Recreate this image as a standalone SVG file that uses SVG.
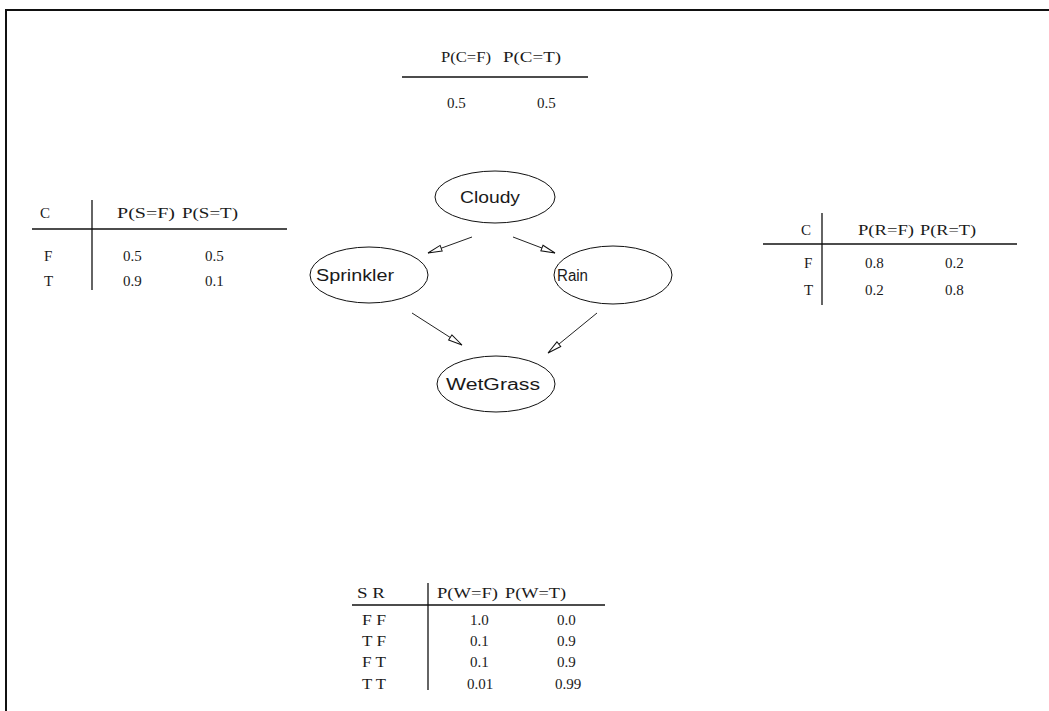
<svg xmlns="http://www.w3.org/2000/svg" width="1049" height="711" viewBox="0 0 1049 711">
<defs>
<style>
.tb{font-family:"Liberation Serif","Times New Roman",serif;font-size:15px;fill:#1a1a1a}
.nd{font-family:"Liberation Sans",Arial,sans-serif;font-size:16px;fill:#1a1a1a}
.ell{fill:none;stroke:#111;stroke-width:1}
.rule{stroke:#111;stroke-width:1.3;fill:none}
.edge{stroke:#222;stroke-width:1;fill:none;marker-end:url(#arr)}
</style>
<marker id="arr" markerUnits="userSpaceOnUse" markerWidth="18" markerHeight="10" refX="15" refY="4" orient="auto">
<path d="M1,1 L15,4 L1,7 z" fill="#fff" stroke="#111" stroke-width="1"/>
</marker>
</defs>
<rect width="1049" height="711" fill="#fff"/>
<path d="M6,711 V10 H1049" fill="none" stroke="#111" stroke-width="2"/>

<g id="table-cloudy">
<text class="tb" x="441" y="62" textLength="50" lengthAdjust="spacingAndGlyphs">P(C=F)</text>
<text class="tb" x="503" y="62" textLength="58" lengthAdjust="spacingAndGlyphs">P(C=T)</text>
<line class="rule" x1="402" y1="77" x2="588" y2="77"/>
<text class="tb" x="447" y="108">0.5</text>
<text class="tb" x="537" y="108">0.5</text>
</g>

<g id="table-sprinkler">
<text class="tb" x="40" y="218">C</text>
<line class="rule" x1="92" y1="200" x2="92" y2="290"/>
<line class="rule" x1="32" y1="229" x2="287" y2="229"/>
<text class="tb" x="117" y="218" textLength="58" lengthAdjust="spacingAndGlyphs">P(S=F)</text>
<text class="tb" x="182" y="218" textLength="56" lengthAdjust="spacingAndGlyphs">P(S=T)</text>
<text class="tb" x="44" y="261">F</text>
<text class="tb" x="123" y="261">0.5</text>
<text class="tb" x="205" y="261">0.5</text>
<text class="tb" x="44" y="286">T</text>
<text class="tb" x="123" y="286">0.9</text>
<text class="tb" x="205" y="286">0.1</text>
</g>

<g id="table-rain">
<text class="tb" x="801" y="235">C</text>
<line class="rule" x1="822" y1="213" x2="822" y2="305"/>
<line class="rule" x1="763" y1="244" x2="1017" y2="244"/>
<text class="tb" x="858" y="235" textLength="56" lengthAdjust="spacingAndGlyphs">P(R=F)</text>
<text class="tb" x="920" y="235" textLength="56" lengthAdjust="spacingAndGlyphs">P(R=T)</text>
<text class="tb" x="804" y="268">F</text>
<text class="tb" x="865" y="268">0.8</text>
<text class="tb" x="945" y="268">0.2</text>
<text class="tb" x="804" y="295">T</text>
<text class="tb" x="865" y="295">0.2</text>
<text class="tb" x="945" y="295">0.8</text>
</g>

<g id="table-wetgrass">
<text class="tb" x="357" y="598" textLength="28" lengthAdjust="spacingAndGlyphs">S R</text>
<line class="rule" x1="428" y1="583" x2="428" y2="690"/>
<line class="rule" x1="352" y1="605" x2="605" y2="605"/>
<text class="tb" x="437" y="598" textLength="61" lengthAdjust="spacingAndGlyphs">P(W=F)</text>
<text class="tb" x="505" y="598" textLength="61" lengthAdjust="spacingAndGlyphs">P(W=T)</text>
<text class="tb" x="362" y="625" textLength="24" lengthAdjust="spacingAndGlyphs">F F</text>
<text class="tb" x="470" y="625">1.0</text>
<text class="tb" x="557" y="625">0.0</text>
<text class="tb" x="362" y="646" textLength="24" lengthAdjust="spacingAndGlyphs">T F</text>
<text class="tb" x="470" y="646">0.1</text>
<text class="tb" x="557" y="646">0.9</text>
<text class="tb" x="362" y="667" textLength="24" lengthAdjust="spacingAndGlyphs">F T</text>
<text class="tb" x="470" y="667">0.1</text>
<text class="tb" x="557" y="667">0.9</text>
<text class="tb" x="362" y="689" textLength="24" lengthAdjust="spacingAndGlyphs">T T</text>
<text class="tb" x="467" y="689">0.01</text>
<text class="tb" x="555" y="689">0.99</text>
</g>

<g id="connectors">
<line class="edge" x1="472" y1="237" x2="428" y2="253"/>
<line class="edge" x1="513" y1="237" x2="555" y2="253"/>
<line class="edge" x1="412" y1="313" x2="462" y2="345"/>
<line class="edge" x1="597" y1="313" x2="548" y2="353"/>
</g>

<g id="node-cloudy">
<ellipse class="ell" cx="495" cy="197" rx="60" ry="26"/>
<text class="nd" x="460" y="203" textLength="60" lengthAdjust="spacingAndGlyphs">Cloudy</text>
</g>
<g id="node-sprinkler">
<ellipse class="ell" cx="369" cy="275" rx="59" ry="28"/>
<text class="nd" x="316" y="281" textLength="78" lengthAdjust="spacingAndGlyphs">Sprinkler</text>
</g>
<g id="node-rain">
<ellipse class="ell" cx="613" cy="275" rx="59" ry="29"/>
<text class="nd" x="557" y="281" textLength="31" lengthAdjust="spacingAndGlyphs">Rain</text>
</g>
<g id="node-wetgrass">
<ellipse class="ell" cx="496" cy="384" rx="59" ry="28"/>
<text class="nd" x="446" y="390" textLength="94" lengthAdjust="spacingAndGlyphs">WetGrass</text>
</g>
</svg>
